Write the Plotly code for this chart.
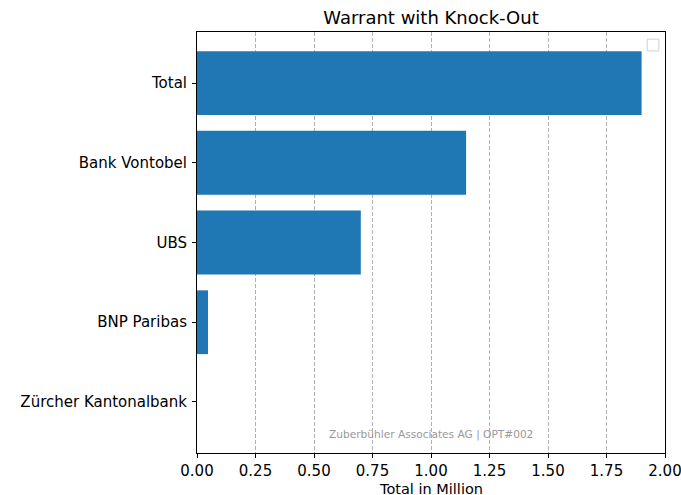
import plotly.graph_objects as go

categories = ["Zürcher Kantonalbank", "BNP Paribas", "UBS", "Bank Vontobel", "Total"]
values = [0.0, 0.047, 0.70, 1.150, 1.900]
x_ticks = [0.0, 0.25, 0.5, 0.75, 1.0, 1.25, 1.5, 1.75, 2.0]

fig = go.Figure()
fig.add_trace(go.Bar(
    y=categories, x=values, orientation="h",
    marker=dict(color="#1f77b4", line=dict(width=0)),
    width=0.8,
))

fig.update_layout(
    width=681, height=495,
    margin=dict(l=197, r=16, t=32, b=42, autoexpand=False),
    plot_bgcolor="white", paper_bgcolor="white",
    font=dict(family="DejaVu Sans", size=15, color="black"),
    showlegend=False,
    title=dict(text="Warrant with Knock-Out", x=(197 + 665) / 2 / 681, xanchor="center",
               y=1 - 18 / 495, yanchor="middle", font=dict(size=18)),
    xaxis=dict(
        range=[0, 2.0], tickvals=x_ticks, tickformat=".2f",
        showgrid=True, gridcolor="#b0b0b0", griddash="4px,2px", gridwidth=1,
        showline=True, linecolor="black", linewidth=1, mirror=True,
        ticks="outside", ticklen=4, tickcolor="black",
        zeroline=False, layer="above traces", automargin=False,
        ticklabeloverflow="allow",
    ),
    yaxis=dict(
        type="category", categoryorder="array", categoryarray=categories,
        range=[-0.64, 4.64], automargin=False,
        showgrid=False, showline=True, linecolor="black", linewidth=1, mirror=True,
        ticks="outside", ticklen=4, tickcolor="black", zeroline=False,
        ticklabelstandoff=2,
    ),
)

fig.add_annotation(
    text="Total in Million",
    xref="paper", yref="paper", x=0.5, y=0, yshift=-35.5, xanchor="center", yanchor="middle",
    showarrow=False, font=dict(size=14.5, color="black"),
    height=17, borderpad=0,
)

fig.add_annotation(
    text="Zuberbühler Associates AG | OPT#002",
    xref="paper", yref="paper", x=0.5, y=0.045, xanchor="center", yanchor="middle",
    showarrow=False, font=dict(size=10.6, color="#999999"),
)

fig.add_shape(
    type="rect", xref="paper", yref="paper",
    x0=0.962, x1=0.987, y0=0.955, y1=0.983,
    line=dict(color="#d0d0d0", width=1), fillcolor="white", layer="above",
)

fig.write_html(
    "out.html",
    config={"displayModeBar": False},
    post_script="document.body.style.margin='0';document.body.style.overflow='hidden';",
)
